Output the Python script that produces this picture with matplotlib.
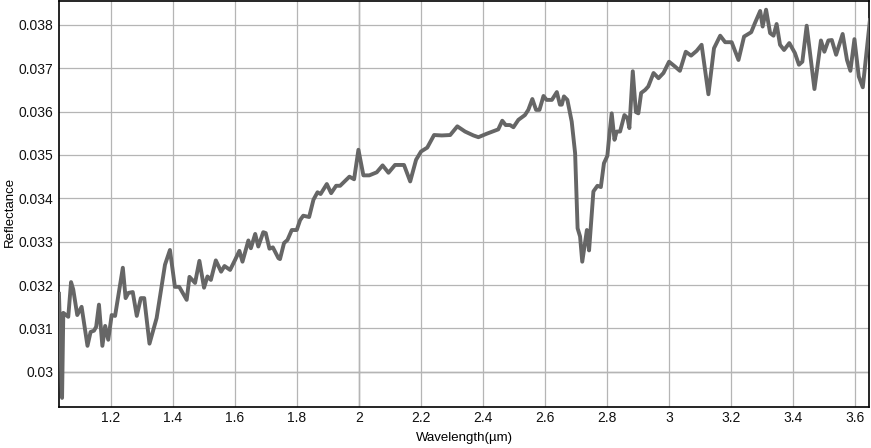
import matplotlib
matplotlib.use("Agg")
import matplotlib.pyplot as plt
from matplotlib.ticker import FuncFormatter

# Spectrum
wavelength = [
    1.032, 1.042, 1.046, 1.062, 1.071, 1.078, 1.091, 1.105, 1.124, 1.134,
    1.145, 1.152, 1.161, 1.172, 1.181, 1.191, 1.202, 1.213, 1.238, 1.247,
    1.256, 1.270, 1.283, 1.296, 1.307, 1.324, 1.347, 1.374, 1.390, 1.406,
    1.420, 1.444, 1.453, 1.471, 1.485, 1.500, 1.511, 1.522, 1.538, 1.555,
    1.566, 1.584, 1.600, 1.614, 1.624, 1.643, 1.651, 1.665, 1.675, 1.691,
    1.699, 1.711, 1.722, 1.740, 1.745, 1.758, 1.769, 1.783, 1.799, 1.810,
    1.820, 1.839, 1.853, 1.866, 1.876, 1.896, 1.910, 1.926, 1.939, 1.969,
    1.984, 1.998, 2.014, 2.033, 2.057, 2.076, 2.095, 2.116, 2.145, 2.165,
    2.184, 2.200, 2.220, 2.242, 2.267, 2.294, 2.317, 2.342, 2.369, 2.385,
    2.412, 2.449, 2.462, 2.473, 2.487, 2.498, 2.514, 2.535, 2.546, 2.559,
    2.571, 2.582, 2.595, 2.605, 2.622, 2.638, 2.648, 2.654, 2.661, 2.672,
    2.686, 2.697, 2.705, 2.713, 2.720, 2.735, 2.742, 2.756, 2.769, 2.780,
    2.790, 2.801, 2.808, 2.815, 2.824, 2.831, 2.842, 2.856, 2.866, 2.872,
    2.883, 2.893, 2.901, 2.910, 2.923, 2.933, 2.950, 2.966, 2.982, 3.000,
    3.019, 3.035, 3.054, 3.071, 3.089, 3.105, 3.127, 3.145, 3.165, 3.181,
    3.202, 3.224, 3.242, 3.265, 3.277, 3.294, 3.302, 3.313, 3.326, 3.337,
    3.347, 3.358, 3.371, 3.388, 3.406, 3.419, 3.430, 3.444, 3.469, 3.490,
    3.501, 3.514, 3.525, 3.539, 3.560, 3.574, 3.585, 3.598, 3.612, 3.625,
    3.648,
]
reflectance = [
    0.03180, 0.02940, 0.03136, 0.03127, 0.03207, 0.03190, 0.03131, 0.03150, 0.03060, 0.03092,
    0.03095, 0.03104, 0.03155, 0.03060, 0.03106, 0.03074, 0.03131, 0.03129, 0.03240, 0.03170,
    0.03182, 0.03184, 0.03129, 0.03170, 0.03170, 0.03065, 0.03124, 0.03247, 0.03281, 0.03196,
    0.03196, 0.03166, 0.03219, 0.03205, 0.03256, 0.03194, 0.03220, 0.03212, 0.03257, 0.03231,
    0.03244, 0.03235, 0.03258, 0.03279, 0.03254, 0.03303, 0.03285, 0.03318, 0.03289, 0.03322,
    0.03320, 0.03284, 0.03287, 0.03262, 0.03260, 0.03297, 0.03304, 0.03327, 0.03327, 0.03350,
    0.03360, 0.03357, 0.03397, 0.03414, 0.03410, 0.03433, 0.03412, 0.03429, 0.03429, 0.03450,
    0.03444, 0.03512, 0.03453, 0.03453, 0.03460, 0.03476, 0.03459, 0.03477, 0.03477, 0.03439,
    0.03489, 0.03508, 0.03517, 0.03546, 0.03545, 0.03546, 0.03566, 0.03554, 0.03545, 0.03541,
    0.03549, 0.03559, 0.03579, 0.03569, 0.03569, 0.03564, 0.03581, 0.03592, 0.03604, 0.03629,
    0.03604, 0.03604, 0.03636, 0.03627, 0.03627, 0.03645, 0.03616, 0.03616, 0.03635, 0.03627,
    0.03577, 0.03504, 0.03331, 0.03312, 0.03254, 0.03327, 0.03280, 0.03416, 0.03429, 0.03426,
    0.03481, 0.03498, 0.03550, 0.03596, 0.03535, 0.03554, 0.03554, 0.03592, 0.03585, 0.03562,
    0.03693, 0.03599, 0.03596, 0.03643, 0.03650, 0.03658, 0.03689, 0.03677, 0.03689, 0.03715,
    0.03704, 0.03694, 0.03738, 0.03729, 0.03740, 0.03754, 0.03640, 0.03746, 0.03775, 0.03760,
    0.03760, 0.03719, 0.03773, 0.03783, 0.03804, 0.03832, 0.03796, 0.03835, 0.03781, 0.03775,
    0.03802, 0.03754, 0.03742, 0.03758, 0.03735, 0.03708, 0.03715, 0.03798, 0.03652, 0.03764,
    0.03738, 0.03764, 0.03765, 0.03731, 0.03779, 0.03719, 0.03694, 0.03767, 0.03681, 0.03656,
    0.03811,
]

x_ticks = [1.2, 1.4, 1.6, 1.8, 2.0, 2.2, 2.4, 2.6, 2.8, 3.0, 3.2, 3.4, 3.6]
y_ticks = [0.030, 0.031, 0.032, 0.033, 0.034, 0.035, 0.036, 0.037, 0.038]

plt.rcParams['font.family'] = ['Liberation Sans', 'DejaVu Sans']

fig = plt.figure(figsize=(8.71, 4.48), dpi=100)
ax = fig.add_axes([0.0677, 0.0915, 0.9300, 0.9063])

ax.plot(wavelength, reflectance, color='#666666', linewidth=2.8, zorder=3)

ax.set_xlim(1.032, 3.645)
ax.set_ylim(0.02919, 0.03855)
ax.set_xticks(x_ticks)
ax.set_yticks(y_ticks)
ax.xaxis.set_major_formatter(FuncFormatter(lambda v, p: f"{v:g}"))
ax.yaxis.set_major_formatter(FuncFormatter(lambda v, p: f"{v:g}"))
ax.tick_params(length=0, labelsize=10, colors='#111111')
ax.tick_params(axis='x', pad=3)
ax.tick_params(axis='y', pad=4)

ax.grid(True, color='#b5b5b5', linewidth=0.9)
ax.axvline(2.0, color='#666666', linewidth=0.9, zorder=1)
ax.axhline(0.030, color='#666666', linewidth=0.9, zorder=1)

for s in ax.spines.values():
    s.set_linewidth(1.2)
    s.set_color('black')

ax.set_xlabel('Wavelength(µm)', fontsize=9.5)
ax.set_ylabel('Reflectance', fontsize=9.5)
ax.xaxis.set_label_coords(0.5, -0.062)
ax.yaxis.set_label_coords(-0.053, 0.48)

fig.savefig('out.png', dpi=100)
